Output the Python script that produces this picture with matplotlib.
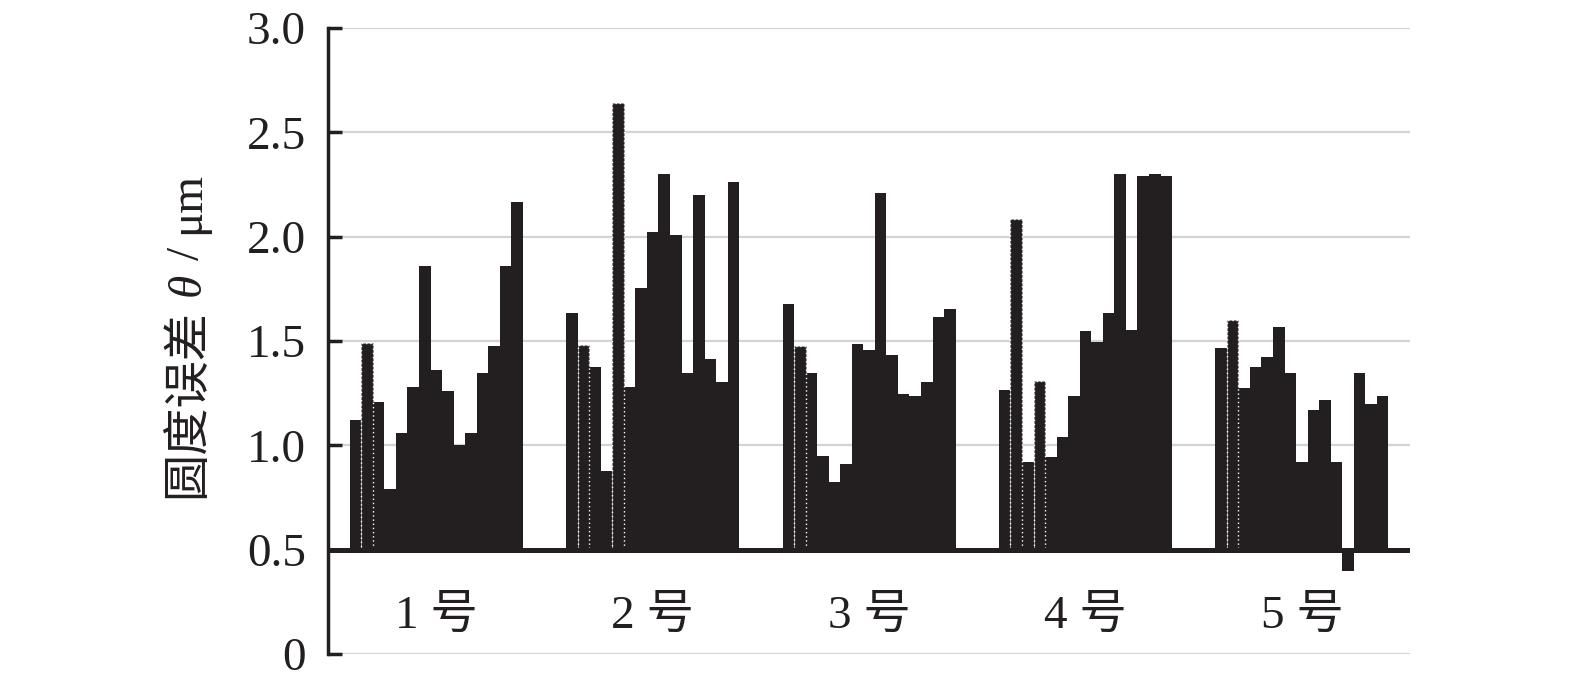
import matplotlib
matplotlib.use("Agg")
import matplotlib.pyplot as plt
import numpy as np

plt.rcParams['font.family'] = ['Liberation Serif', 'Noto Sans CJK SC']

categories = ['1 号', '2 号', '3 号', '4 号', '5 号']
group1 = [1.12, 1.49, 1.21, 0.79, 1.06, 1.28, 1.86, 1.36, 1.26, 1.00, 1.06, 1.345, 1.475, 1.86, 2.165]
group2 = [1.635, 1.48, 1.375, 0.875, 2.64, 1.28, 1.755, 2.02, 2.30, 2.01, 1.345, 2.20, 1.415, 1.305, 2.26]
group3 = [1.675, 1.475, 1.345, 0.95, 0.825, 0.91, 1.485, 1.455, 2.21, 1.435, 1.245, 1.235, 1.305, 1.615, 1.655]
group4 = [1.265, 2.085, 0.92, 1.31, 0.945, 1.04, 1.235, 1.55, 1.495, 1.635, 2.30, 1.555, 2.29, 2.30, 2.29]
group5 = [1.465, 1.60, 1.275, 1.375, 1.425, 1.565, 1.345, 0.92, 1.17, 1.215, 0.92, 0.40, 1.345, 1.20, 1.235]
groups = [group1, group2, group3, group4, group5]
# bars drawn with a dotted outline in the original (index within group)
dotted = [[1], [1, 4], [1], [1, 3], [1]]
baseline = 0.5
yticks = [0, 0.5, 1.0, 1.5, 2.0, 2.5, 3.0]
ytick_labels = ['0', '0.5', '1.0', '1.5', '2.0', '2.5', '3.0']
ylabel_parts = [('圆度误差', 'normal'), ('θ', 'italic'), ('/', 'normal'), ('μm', 'normal')]

bar_color = '#231f20'
fig = plt.figure(figsize=(15.75, 6.82), dpi=100)
ax = fig.add_axes([0.2083, 0.041, 0.687, 0.918])

group_width = 0.8
for gi, vals in enumerate(groups):
    n = len(vals)
    w = group_width / n
    xs = gi - group_width / 2 + w * (np.arange(n) + 0.5)
    heights = np.array(vals) - baseline
    for k in range(n):
        if k in dotted[gi]:
            ax.bar(xs[k], heights[k], bottom=baseline, width=w, color=bar_color,
                   edgecolor='white', linewidth=1.0, linestyle=(0, (1, 2)), zorder=3)
        else:
            ax.bar(xs[k], heights[k], bottom=baseline, width=w, color=bar_color,
                   linewidth=0, zorder=2)

ax.axhline(baseline, color=bar_color, linewidth=3.6, zorder=4)

for i, c in enumerate(categories):
    ax.text(i, 0.18, c, ha='center', va='center', fontsize=34, color='#231f20')

ax.set_xlim(-0.5, 4.5)
ax.set_ylim(0, 3.0)
ax.set_yticks(yticks)
ax.set_yticklabels(ytick_labels, fontsize=34, color='#231f20')
ax.set_xticks([])
ax.tick_params(axis='y', direction='in', length=10, width=2.5, pad=16, color='#231f20')
ax.yaxis.grid(True, color='#d3d3d3', linewidth=1.6)
ax.set_axisbelow(True)
for s in ['top', 'right', 'bottom']:
    ax.spines[s].set_visible(False)
ax.spines['left'].set_linewidth(2.5)
ax.spines['left'].set_color('#231f20')

# y-axis label composed of pieces (CJK + italic theta + unit), rotated 90 deg
fig.canvas.draw()
renderer = fig.canvas.get_renderer()
H = fig.bbox.height
texts = []
for s, st in ylabel_parts:
    t = fig.text(0, 0, s, rotation=90, fontsize=34, style=st, color='#231f20',
                 ha='left', va='center', rotation_mode='anchor')
    texts.append(t)
lengths = [t.get_window_extent(renderer).height for t in texts]
gap = 13
total = sum(lengths) + gap * (len(texts) - 1)
center_px = H * (1 - 335 / 682)
y0 = center_px - total / 2
xc = 188 / 1575
for t, L in zip(texts, lengths):
    t.set_position((xc, y0 / H))
    y0 += L + gap

fig.savefig('out.png', dpi=100)
